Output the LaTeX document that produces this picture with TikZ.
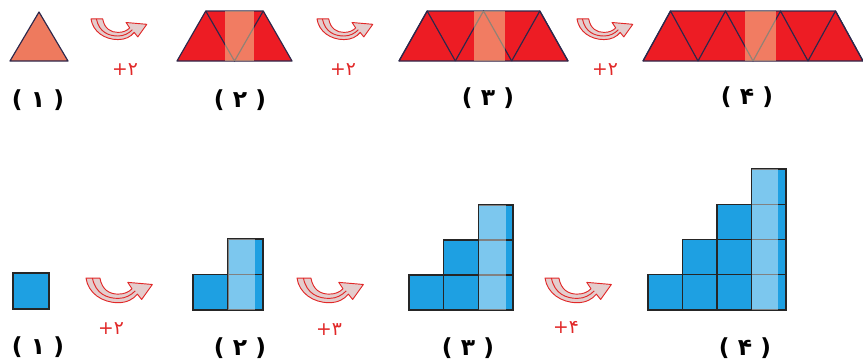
\documentclass[tikz,border=0pt]{standalone}
\usepackage{fontspec}
\newfontfamily\arabicfont{DejaVu Sans}
\definecolor{trired}{RGB}{237,28,36}
\definecolor{trisalmon}{RGB}{238,122,94}
\definecolor{triedge}{RGB}{45,40,75}
\definecolor{bandtint}{RGB}{245,220,160}
\definecolor{sqblue}{RGB}{30,160,226}
\definecolor{curlred}{RGB}{225,40,40}
\definecolor{curlgray}{RGB}{228,205,205}

\tikzset{
	tri/.style={fill=trired, draw=triedge, line width=1pt, line join=round},
	triedges/.style={draw=triedge, line width=1pt, line join=round},
	band/.style={fill=bandtint, fill opacity=0.5},
	sq/.style={fill=sqblue, draw=black!85, line width=1.1pt},
	sqband/.style={fill=white, fill opacity=0.42},
	figlabel/.style={font=\arabicfont\bfseries\fontsize{20}{24}\selectfont},
	incr/.style={text=curlred, font=\arabicfont\fontsize{16}{18}\selectfont},
	curl/.pic={
		\filldraw[fill=curlgray, draw=curlred, line width=0.8pt, line join=round]
			(0,1) -- (13,1) .. controls (15,12) and (22,16) .. (30,16)
			.. controls (36,16) and (40,14) .. (43,11) -- (39,5) -- (62,7) -- (52,21) -- (48,16)
			.. controls (44,21) and (38,24) .. (30,24) .. controls (15,24) and (2,15) .. (0,1) -- cycle;
		\draw[curlred, line width=0.8pt] (6,1) .. controls (9,16) and (20,20) .. (30,20)
			.. controls (37,20) and (42,17) .. (46,13);
	}
}

\begin{document}
\begin{tikzpicture}[x=0.03cm, y=-0.03cm]
	\useasboundingbox (0,0) rectangle (863,362);

	% triangles
	\filldraw[tri, fill=trisalmon] (10,61) -- (68,61) -- (39,12) -- cycle;

	\filldraw[tri] (177,61) -- (292,61) -- (263.25,11) -- (205.75,11) -- cycle;
	\draw[triedges] (205.75,11) -- (234.5,61) -- (263.25,11);
	\fill[band] (225,11) rectangle (254,61);

	\filldraw[tri] (399,61) -- (568,61) -- (539.8,11) -- (427.2,11) -- cycle;
	\foreach \i in {1,...,3}
		\draw[triedges] ({399+(\i-1)*56.33},61) -- ({399+(\i-0.5)*56.33},11) -- ({399+\i*56.33},61);
	\fill[band] (474,11) rectangle (505,61);

	\filldraw[tri] (643,61) -- (863,61) -- (835.5,11) -- (670.5,11) -- cycle;
	\foreach \i in {1,...,4}
		\draw[triedges] ({643+(\i-1)*55},61) -- ({643+(\i-0.5)*55},11) -- ({643+\i*55},61);
	\fill[band] (745,11) rectangle (776,61);

	\pic[scale=0.9] at (91,18) {curl};
	\pic[scale=0.9] at (317,18) {curl};
	\pic[scale=0.9] at (577,18) {curl};
	\node[incr] (p1) at (125,70) {+۲};
	\node[incr] (p2) at (343,70) {+۲};
	\node[incr] (p3) at (605,70) {+۲};

	\node[figlabel] (t1) at (38,100) {( ۱ )};
	\node[figlabel] (t2) at (240,100) {( ۲ )};
	\node[figlabel] (t3) at (488,98) {( ۳ )};
	\node[figlabel] (t4) at (747,97) {( ۴ )};

	% squares
	\filldraw[sq] (13,273) rectangle (49,309);

	\foreach \c in {0,1}
		\foreach \r in {0,...,\c}
			\filldraw[sq] ({193+\c*35},{310-\r*35.5}) rectangle ++(35,-35.5);
	\fill[sqband] (228,239) rectangle (255,310);

	\foreach \c in {0,...,2}
		\foreach \r in {0,...,\c}
			\filldraw[sq] ({409+\c*34.7},{310-\r*35}) rectangle ++(34.7,-35);
	\fill[sqband] (479,205) rectangle (505.5,310);

	\foreach \c in {0,...,3}
		\foreach \r in {0,...,\c}
			\filldraw[sq] ({648+\c*34.5},{310-\r*35.25}) rectangle ++(34.5,-35.25);
	\fill[sqband] (752,169) rectangle (778,310);

	\pic[scale=1.07] at (86,277) {curl};
	\pic[scale=1.07] at (297,277) {curl};
	\pic[scale=1.07] at (545,277) {curl};
	\node[incr] (q1) at (111,329) {+۲};
	\node[incr] (q2) at (329,330) {+۳};
	\node[incr] (q3) at (566,327) {+۴};

	\node[figlabel] (s1) at (38,347) {( ۱ )};
	\node[figlabel] (s2) at (240,348) {( ۲ )};
	\node[figlabel] (s3) at (468,348) {( ۳ )};
	\node[figlabel] (s4) at (745,348) {( ۴ )};
\end{tikzpicture}
\end{document}
